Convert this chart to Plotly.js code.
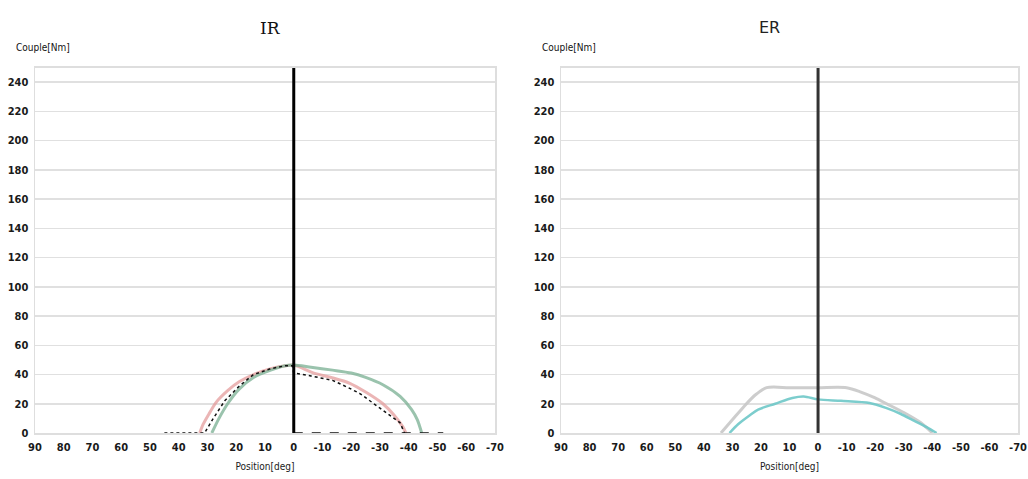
<!DOCTYPE html>
<html>
<head>
<meta charset="utf-8">
<script src="https://cdn.plot.ly/plotly-3.0.1.min.js"></script>
<style>
  html, body { margin: 0; padding: 0; background: #fff; }
  #chart { width: 1028px; height: 479px; }
</style>
</head>
<body>
<div id="chart"></div>
<script>
// Torque (Couple, Nm) versus joint position (deg) for internal (IR) and external (ER) rotation.

const xTickVals = [90, 80, 70, 60, 50, 40, 30, 20, 10, 0, -10, -20, -30, -40, -50, -60, -70];
const xTickText = ["90", "80", "70", "60", "50", "40", "30", "20", "10", "0", "-10", "-20", "-30", "-40", "-50", "-60", "-70"];
const yTickVals = [0, 20, 40, 60, 80, 100, 120, 140, 160, 180, 200, 220, 240];
const yTickText = ["0", "20", "40", "60", "80", "100", "120", "140", "160", "180", "200", "220", "240"];

// IR - red curve
const irRedPos = [32.7, 31.5, 29.5, 27, 23, 19, 14, 8, 3, 0, -7, -13, -19.5, -25, -31, -35, -38, -39];
const irRedTq  = [0, 6, 13, 21, 29, 35, 40, 44, 46, 46.5, 41, 38, 34, 28, 20, 12, 4, 0];
// IR - green curve
const irGreenPos = [28.5, 26, 23, 19, 14, 8, 3, 0, -6, -13.5, -20, -25, -31, -37, -41, -43, -44.5];
const irGreenTq  = [0, 10, 20, 30, 38, 43, 46, 46.5, 45, 43, 41, 38, 33, 25, 16, 9, 0];
// IR - black dotted trace
const irBlackPos = [45, 31, 28, 24, 19, 14, 8, 3, 0.5, 0, -6, -13.5, -19, -23, -30, -37, -38.5];
const irBlackTq  = [0, 0, 10, 22, 32, 40, 44, 46, 46, 41, 39, 36, 31, 27, 17, 7, 0];
const irBasePos = [0, -52];
const irBaseTq  = [0, 0];

// ER - grey curve
const erGreyPos = [34, 30, 26, 22, 18, 10, 0, -10, -15, -20, -24, -30, -36, -40];
const erGreyTq  = [0, 9, 18, 26, 31, 31, 31, 31, 28, 24, 20, 14, 7, 0];
// ER - teal curve
const erTealPos = [31, 28, 24, 21, 15, 9, 5, 0, -8, -18, -24, -29, -33, -38, -41.5];
const erTealTq  = [0, 6, 12, 16, 20, 24, 25, 23, 22, 20.5, 17, 13, 9, 4, 0];

// Vertical reference at 0 deg
const zeroPos = [0, 0];
const zeroTq  = [0, 250];

const fontFam = "DejaVu Sans Condensed, DejaVu Sans, sans-serif";

const traces = [
  { x: irRedPos, y: irRedTq, xaxis: "x", yaxis: "y", mode: "lines", line: { color: "rgba(226,150,150,0.7)", width: 3, shape: "spline", smoothing: 0.8 }, hoverinfo: "skip" },
  { x: irGreenPos, y: irGreenTq, xaxis: "x", yaxis: "y", mode: "lines", line: { color: "rgba(120,175,145,0.75)", width: 3, shape: "spline", smoothing: 0.8 }, hoverinfo: "skip" },
  { x: irBlackPos, y: irBlackTq, xaxis: "x", yaxis: "y", mode: "lines", line: { color: "#111", width: 1.5, dash: "dot" }, hoverinfo: "skip" },
  { x: irBasePos, y: irBaseTq, xaxis: "x", yaxis: "y", mode: "lines", line: { color: "#111", width: 1.5, dash: "dash" }, hoverinfo: "skip" },
  { x: zeroPos, y: zeroTq, xaxis: "x", yaxis: "y", mode: "lines", line: { color: "#000", width: 3 }, hoverinfo: "skip" },

  { x: erGreyPos, y: erGreyTq, xaxis: "x2", yaxis: "y2", mode: "lines", line: { color: "rgba(200,200,200,0.9)", width: 3, shape: "spline", smoothing: 0.8 }, hoverinfo: "skip" },
  { x: erTealPos, y: erTealTq, xaxis: "x2", yaxis: "y2", mode: "lines", line: { color: "rgba(110,200,200,0.9)", width: 2.5, shape: "spline", smoothing: 0.8 }, hoverinfo: "skip" },
  { x: zeroPos, y: zeroTq, xaxis: "x2", yaxis: "y2", mode: "lines", line: { color: "#333", width: 3 }, hoverinfo: "skip" }
];

const W = 1028, H = 479;
const yBottom = 1 - 433 / H, yTop = 1 - 67.5 / H;

function xAxis(l, r, anchor) {
  return {
    domain: [l / W, r / W], anchor: anchor,
    range: [90, -70], autorange: false,
    tickmode: "array", tickvals: xTickVals, ticktext: xTickText,
    showgrid: false, zeroline: false,
    showline: true, mirror: true, linecolor: "#dedede", linewidth: 1.5,
    ticks: "", ticklabelstandoff: 3,
    tickfont: { family: fontFam, size: 11, color: "#1a1a1a", weight: "bold" },
    title: { text: "Position[deg]", font: { family: fontFam, size: 10, color: "#1a1a1a" }, standoff: 10 }
  };
}
function yAxis(anchor) {
  return {
    domain: [yBottom, yTop], anchor: anchor,
    range: [0, 250], autorange: false,
    tickmode: "array", tickvals: yTickVals, ticktext: yTickText,
    showgrid: true, gridcolor: "#e0e0e0", gridwidth: 1.5,
    zeroline: false,
    showline: true, mirror: true, linecolor: "#dedede", linewidth: 1.5,
    ticks: "", ticklabelstandoff: 3,
    tickfont: { family: fontFam, size: 11, color: "#1a1a1a", weight: "bold" }
  };
}

const layout = {
  width: W, height: H,
  margin: { l: 0, r: 0, t: 0, b: 0 },
  paper_bgcolor: "#fff", plot_bgcolor: "#fff",
  showlegend: false,
  xaxis: xAxis(35, 495, "y"),
  yaxis: yAxis("x"),
  xaxis2: xAxis(561, 1018, "y2"),
  yaxis2: yAxis("x2"),
  annotations: [
    { text: "IR", xref: "paper", yref: "paper", x: 258 / W, y: 1 - 28 / H, yanchor: "middle", showarrow: false,
      font: { family: "DejaVu Serif, serif", size: 17, color: "#111" } },
    { text: "ER", xref: "paper", yref: "paper", x: 782 / W, y: 1 - 28 / H, yanchor: "middle", showarrow: false,
      font: { family: "DejaVu Sans, sans-serif", size: 16, color: "#222" } },
    { text: "Couple[Nm]", xref: "paper", yref: "paper", x: 14 / W, y: 1 - 47 / H, xanchor: "left", yanchor: "middle", showarrow: false,
      font: { family: fontFam, size: 10, color: "#111" } },
    { text: "Couple[Nm]", xref: "paper", yref: "paper", x: 540 / W, y: 1 - 47 / H, xanchor: "left", yanchor: "middle", showarrow: false,
      font: { family: fontFam, size: 10, color: "#111" } }
  ]
};

Plotly.newPlot("chart", traces, layout, { displayModeBar: false, staticPlot: true });
</script>
</body>
</html>
